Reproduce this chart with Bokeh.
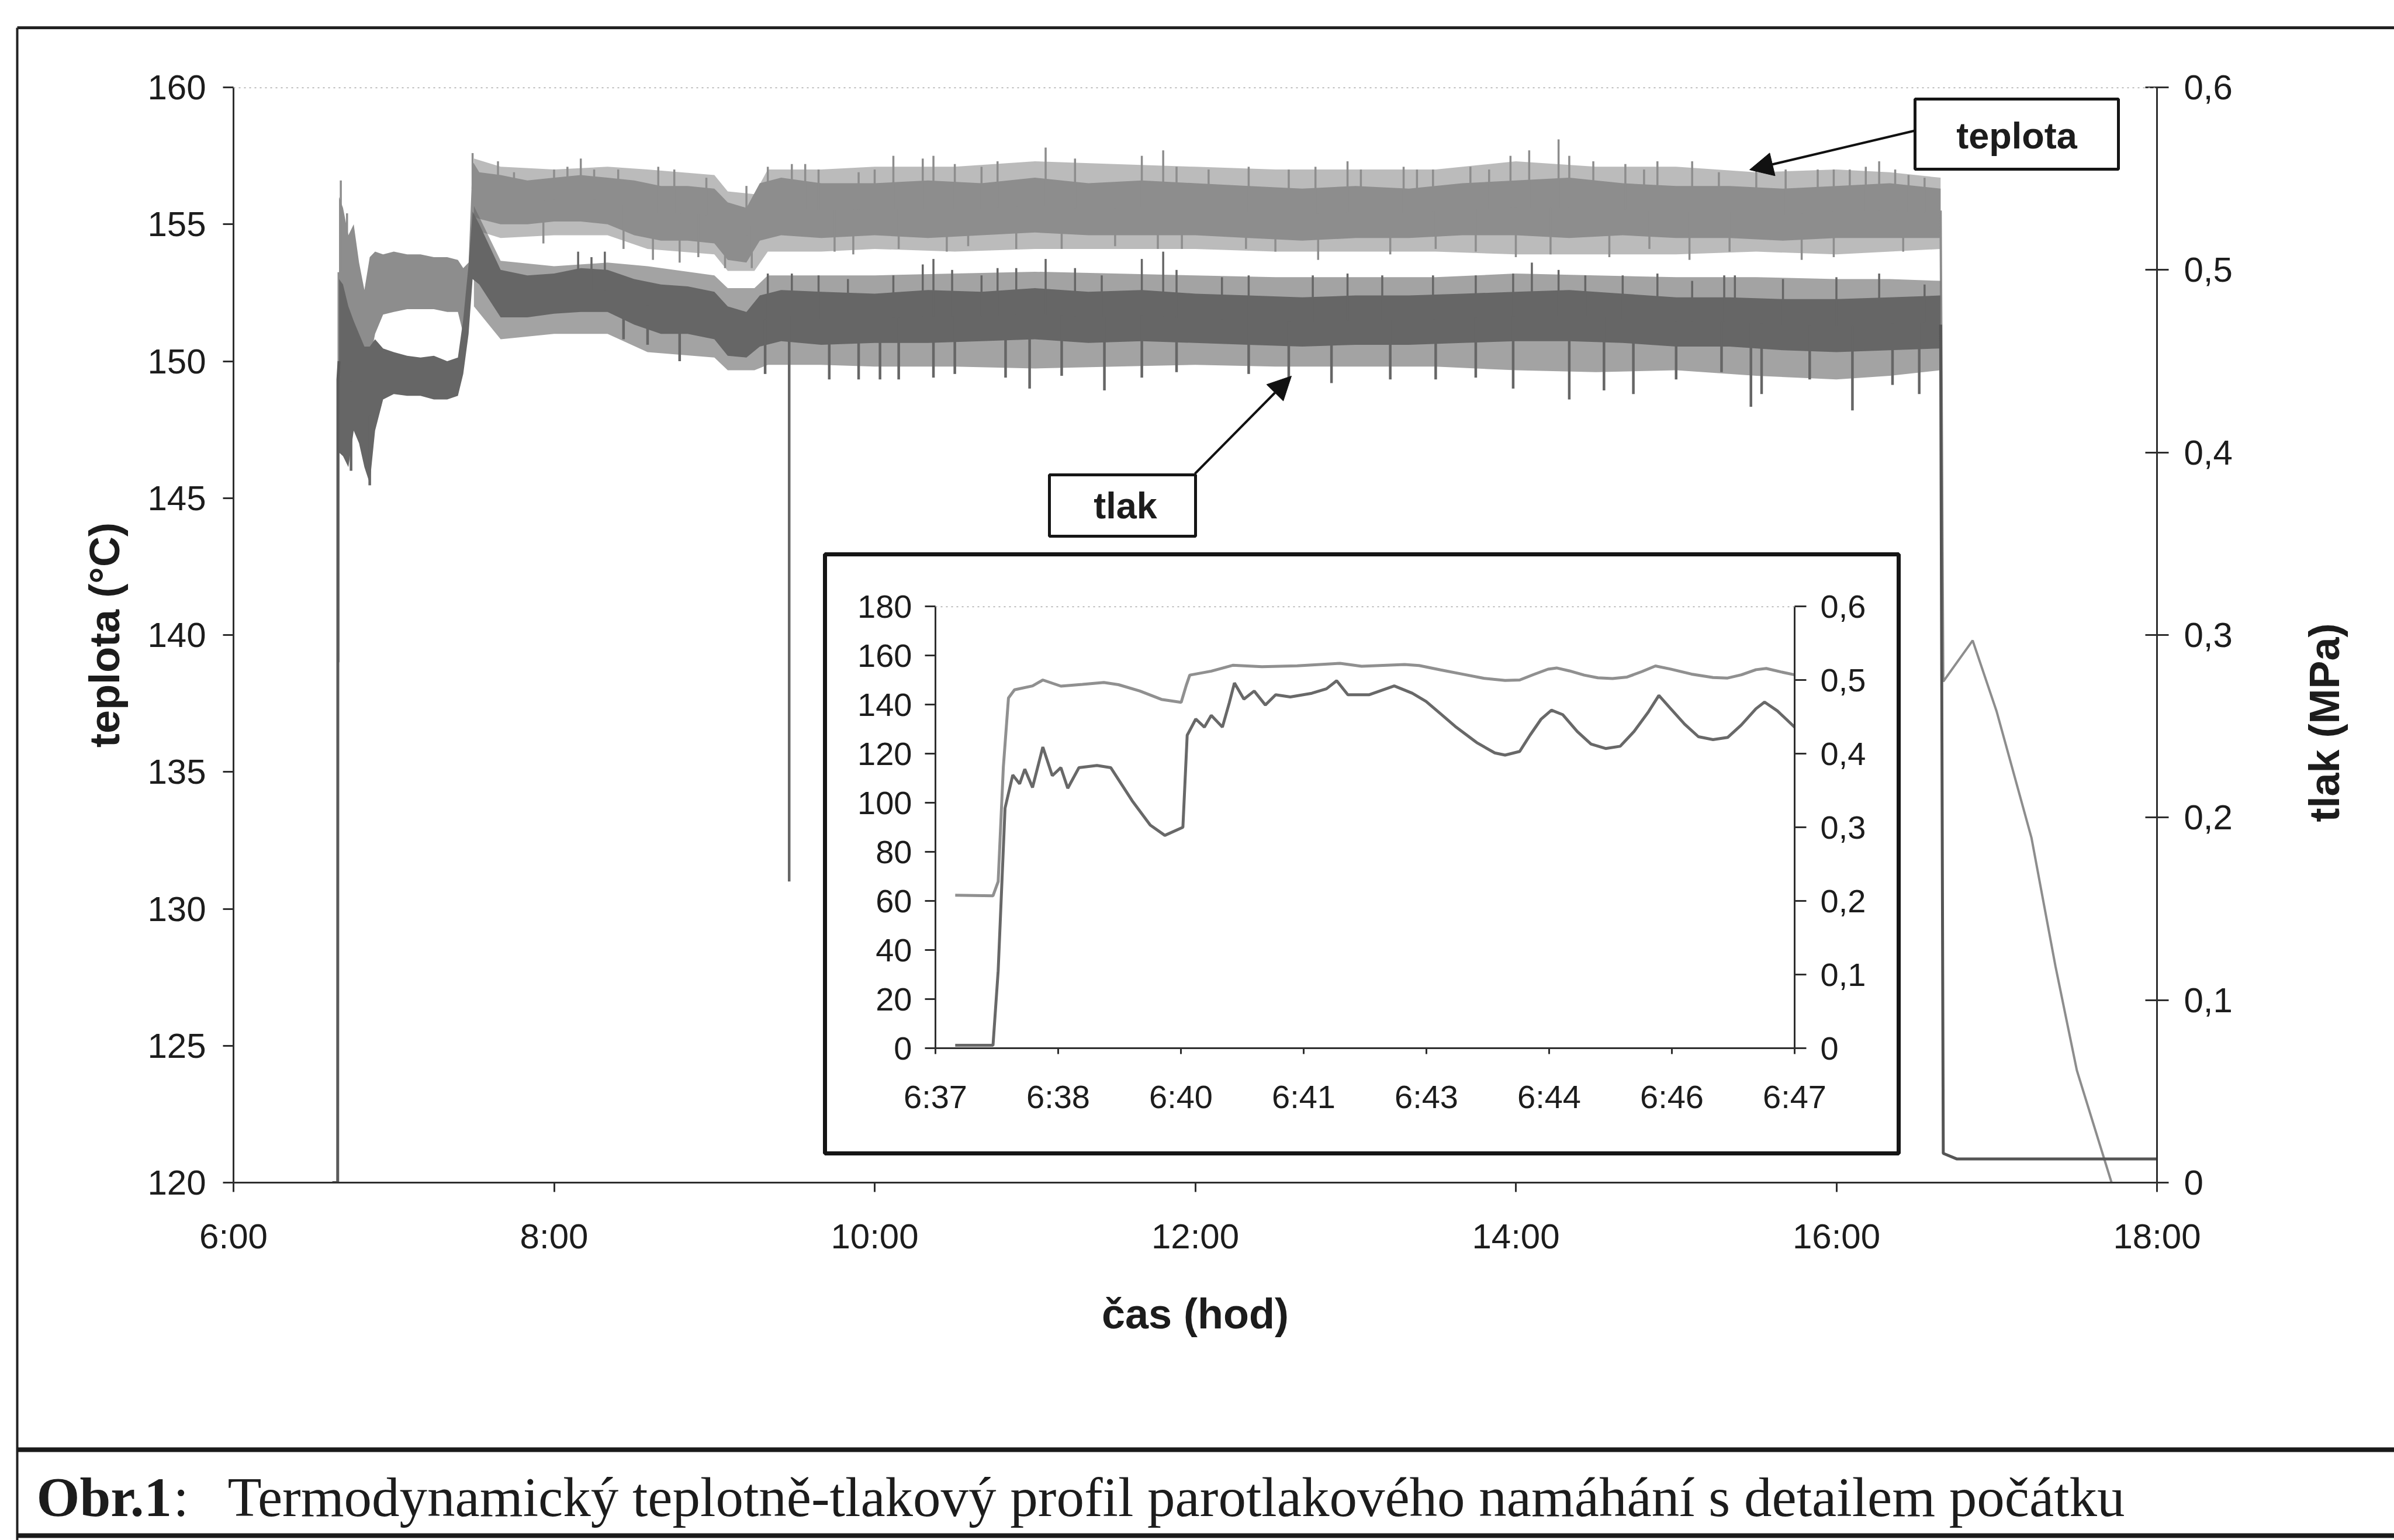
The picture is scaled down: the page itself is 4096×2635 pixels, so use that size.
import numpy as np
from bokeh.plotting import figure
from bokeh.models import (Range1d, LinearAxis, FixedTicker, CustomJSTickFormatter,
                          Span, Arrow, NormalHead)
from bokeh.layouts import column
from bokeh.embed import file_html
from bokeh.resources import INLINE
from bokeh.core.properties import value

# ---------------------------------------------------------------- data
x_ticks = [6, 8, 10, 12, 14, 16, 18]
x_tick_labels = ["6:00", "8:00", "10:00", "12:00", "14:00", "16:00", "18:00"]
temp_ticks = [120, 125, 130, 135, 140, 145, 150, 155, 160]
pres_ticks = [0.0, 0.1, 0.2, 0.3, 0.4, 0.5, 0.6]

# dense core of the noisy bands (main chart)
band_time = ["6:39:30", "6:41", "6:43", "6:45", "6:47", "6:49", "6:51", "6:53", "6:56", "7:00",
             "7:05", "7:10", "7:15", "7:20", "7:24", "7:26", "7:28", "7:29:30", "7:32", "7:40",
             "7:50", "8:00", "8:10", "8:20", "8:30", "8:40", "8:50", "9:00", "9:05", "9:12",
             "9:17", "9:25", "9:40", "10:00", "10:20", "10:40", "11:00", "11:20", "11:40", "12:00",
             "12:20", "12:40", "13:00", "13:20", "13:40", "14:00", "14:20", "14:40", "15:00", "15:20",
             "15:40", "16:00", "16:20", "16:39"]
temp_low = [150.5, 151.0, 150.2, 149.6, 149.2, 149.0, 150.0, 151.0, 151.7, 151.8,
            151.9, 151.9, 151.9, 151.8, 151.8, 151.0, 151.6, 155.3, 155.2, 155.0,
            155.0, 155.1, 155.1, 155.0, 154.6, 154.4, 154.4, 154.3, 153.7, 153.6,
            154.4, 154.6, 154.5, 154.6, 154.5, 154.6, 154.7, 154.6, 154.6, 154.6,
            154.5, 154.4, 154.5, 154.5, 154.6, 154.6, 154.5, 154.6, 154.5, 154.5,
            154.4, 154.5, 154.5, 154.5]
temp_high = [156.0, 155.6, 154.6, 155.0, 153.6, 152.6, 153.8, 154.0, 153.9, 154.0,
             153.9, 153.9, 153.8, 153.8, 153.7, 153.4, 153.6, 157.3, 156.9, 156.8,
             156.6, 156.7, 156.8, 156.7, 156.6, 156.4, 156.4, 156.3, 155.8, 155.6,
             156.5, 156.7, 156.5, 156.5, 156.6, 156.5, 156.7, 156.5, 156.6, 156.5,
             156.4, 156.3, 156.4, 156.3, 156.5, 156.6, 156.7, 156.5, 156.4, 156.4,
             156.3, 156.4, 156.5, 156.3]
pres_low = [0.400, 0.398, 0.392, 0.412, 0.405, 0.392, 0.383, 0.412, 0.429, 0.432,
            0.431, 0.431, 0.429, 0.429, 0.431, 0.443, 0.465, 0.495, 0.492, 0.474,
            0.474, 0.476, 0.477, 0.477, 0.470, 0.465, 0.465, 0.462, 0.453, 0.452,
            0.458, 0.461, 0.459, 0.460, 0.460, 0.461, 0.462, 0.460, 0.461, 0.460,
            0.459, 0.458, 0.459, 0.459, 0.460, 0.461, 0.461, 0.460, 0.458, 0.458,
            0.456, 0.455, 0.456, 0.457]
pres_high = [0.495, 0.492, 0.480, 0.472, 0.465, 0.458, 0.458, 0.462, 0.457, 0.455,
             0.453, 0.452, 0.453, 0.450, 0.452, 0.473, 0.503, 0.532, 0.525, 0.500,
             0.497, 0.498, 0.501, 0.500, 0.495, 0.492, 0.491, 0.488, 0.480, 0.477,
             0.486, 0.489, 0.488, 0.487, 0.489, 0.488, 0.490, 0.488, 0.489, 0.487,
             0.486, 0.485, 0.486, 0.486, 0.487, 0.488, 0.489, 0.487, 0.485, 0.485,
             0.484, 0.484, 0.485, 0.486]

# reach of the frequent small spikes around the core (fuzzy edge of each band)
outer_time = ["7:30", "7:40", "8:00", "8:20", "8:35", "9:00", "9:05", "9:15", "9:20", "9:40",
              "10:00", "10:30", "11:00", "11:30", "12:00", "12:30", "13:00", "13:30", "14:00", "14:30",
              "15:00", "15:30", "16:00", "16:20", "16:39"]
temp_outer_low = [154.8, 154.5, 154.6, 154.6, 154.1, 153.9, 153.3, 153.3, 154.0, 154.0,
                  154.1, 154.0, 154.1, 154.1, 154.1, 154.0, 154.0, 154.0, 153.9, 153.9,
                  153.9, 154.0, 153.9, 154.0, 154.1]
temp_outer_high = [157.4, 157.1, 157.0, 157.1, 157.0, 156.8, 156.2, 156.1, 157.0, 157.0,
                   157.1, 157.1, 157.3, 157.2, 157.1, 157.0, 157.0, 157.0, 157.3, 157.1,
                   157.1, 156.9, 157.0, 156.9, 156.7]
pres_outer_low = [0.480, 0.462, 0.465, 0.465, 0.455, 0.452, 0.445, 0.445, 0.448, 0.448,
                  0.447, 0.447, 0.446, 0.447, 0.448, 0.447, 0.447, 0.447, 0.445, 0.444,
                  0.445, 0.442, 0.440, 0.442, 0.445]
pres_outer_high = [0.535, 0.505, 0.502, 0.504, 0.502, 0.497, 0.490, 0.490, 0.497, 0.497,
                   0.497, 0.498, 0.499, 0.498, 0.497, 0.496, 0.496, 0.496, 0.498, 0.497,
                   0.496, 0.496, 0.495, 0.495, 0.494]

# single spikes leaving the bands
temp_up_time = ["6:40:10", "6:42:30", "7:29:30", "7:39", "7:45", "8:00", "8:05", "8:10", "8:15", "8:24",
                "8:39", "8:45", "8:57", "9:12", "9:20", "9:29", "9:34", "9:39", "9:54", "10:00",
                "10:07", "10:18", "10:22", "10:30", "10:40", "10:46", "11:04", "11:15", "11:40", "11:48",
                "11:53", "12:05", "12:20", "12:35", "12:45", "12:57", "13:02", "13:18", "13:23", "13:29",
                "13:43", "13:50", "13:58", "14:05", "14:16", "14:20", "14:29", "14:41", "14:48", "14:53",
                "15:06", "15:16", "15:30", "15:41", "15:53", "15:59", "16:05", "16:11", "16:16", "16:22",
                "16:27", "16:33"]
temp_up = [156.6, 155.4, 157.6, 157.3, 156.9, 157.0, 157.1, 157.4, 157.0, 157.0,
           157.1, 157.0, 156.7, 156.4, 157.1, 157.2, 157.2, 157.0, 156.9, 157.0,
           157.5, 157.4, 157.5, 157.2, 157.1, 157.3, 157.8, 157.4, 157.5, 157.7,
           157.1, 157.0, 157.1, 157.0, 157.1, 157.3, 157.0, 157.1, 157.0, 157.0,
           157.1, 157.0, 157.5, 157.7, 158.1, 157.5, 157.3, 157.2, 157.0, 157.3,
           157.3, 156.9, 157.0, 157.0, 157.0, 157.0, 157.0, 157.1, 157.3, 157.0,
           156.8, 156.7]
temp_down_time = ["6:39:20", "7:56", "8:26", "8:37", "8:47", "8:54", "9:04", "9:14", "9:45", "9:52",
                  "10:09", "10:27", "10:35", "10:53", "11:10", "11:30", "11:46", "11:55", "12:19", "12:30",
                  "12:46", "13:13", "13:30", "13:45", "14:00", "14:13", "14:35", "14:50", "15:05", "15:20",
                  "15:47", "15:59", "16:25"]
temp_down = [139.0, 154.3, 154.1, 153.7, 153.6, 153.8, 153.4, 153.4, 154.0, 153.9,
             154.1, 154.0, 154.2, 154.1, 154.1, 154.2, 154.1, 154.1, 154.1, 154.0,
             153.7, 153.9, 154.1, 154.0, 153.8, 153.9, 153.8, 154.1, 153.7, 154.0,
             153.7, 153.8, 154.0]
pres_up_time = ["8:09", "8:14", "8:19", "9:20", "9:29", "9:39", "9:50", "10:07", "10:18", "10:22",
                "10:29", "10:40", "10:46", "10:53", "11:04", "11:15", "11:25", "11:40", "11:48", "11:53",
                "12:10", "12:20", "12:44", "12:57", "13:10", "13:29", "13:45", "13:59", "14:06", "14:16",
                "14:26", "14:40", "14:53", "15:06", "15:18", "15:22", "15:40", "16:00", "16:16", "16:33"]
pres_up = [0.510, 0.507, 0.510, 0.498, 0.498, 0.497, 0.495, 0.497, 0.503, 0.506,
           0.500, 0.497, 0.501, 0.501, 0.506, 0.501, 0.497, 0.506, 0.510, 0.500,
           0.496, 0.497, 0.497, 0.498, 0.497, 0.497, 0.497, 0.498, 0.504, 0.500,
           0.497, 0.497, 0.498, 0.494, 0.497, 0.497, 0.495, 0.496, 0.498, 0.492]
pres_down_time = ["6:44", "6:51", "8:26", "8:35", "8:47", "9:19", "9:28", "9:43", "9:54", "10:02",
                  "10:09", "10:22", "10:30", "10:49", "10:58", "11:10", "11:26", "11:40", "11:53", "12:20",
                  "12:35", "12:51", "13:13", "13:30", "13:45", "13:59", "14:20", "14:33", "14:44", "15:00",
                  "15:17", "15:28", "15:32", "15:50", "16:06", "16:21", "16:31"]
pres_down = [0.390, 0.382, 0.462, 0.459, 0.450, 0.443, 0.165, 0.440, 0.440, 0.440,
             0.440, 0.441, 0.443, 0.441, 0.435, 0.442, 0.434, 0.441, 0.444, 0.443,
             0.441, 0.438, 0.440, 0.440, 0.441, 0.435, 0.429, 0.434, 0.432, 0.440,
             0.444, 0.425, 0.432, 0.440, 0.423, 0.437, 0.432]

# start and end of the run
pres_head_time = ["6:37", "6:39", "6:39:05", "6:39:30"]
pres_head = [0.0, 0.0, 0.440, 0.450]
temp_tail_time = ["16:39", "16:40", "16:51", "17:00", "17:13", "17:22", "17:30", "17:43"]
temp_tail = [155.5, 138.3, 139.8, 137.2, 132.6, 127.9, 124.1, 120.0]
pres_tail_time = ["16:39", "16:40", "16:45", "18:00"]
pres_tail = [0.470, 0.016, 0.013, 0.013]

# inset: detail of the start (minutes after 6:37)
inset_x_ticks = [0, 10 / 7, 20 / 7, 30 / 7, 40 / 7, 50 / 7, 60 / 7, 10]
inset_x_tick_labels = ["6:37", "6:38", "6:40", "6:41", "6:43", "6:44", "6:46", "6:47"]
inset_temp_ticks = [0, 20, 40, 60, 80, 100, 120, 140, 160, 180]
inset_temp_min = [0.23, 0.67, 0.73, 0.79, 0.85, 0.92, 1.13, 1.25, 1.46, 1.71,
                  1.96, 2.13, 2.38, 2.63, 2.86, 2.92, 2.96, 3.21, 3.46, 3.80,
                  4.21, 4.71, 4.96, 5.46, 5.63, 5.88, 6.13, 6.38, 6.63, 6.80,
                  6.96, 7.13, 7.23, 7.38, 7.55, 7.71, 7.88, 8.05, 8.22, 8.38,
                  8.55, 8.80, 9.05, 9.22, 9.38, 9.55, 9.67, 9.84, 10.0]
inset_temp = [62.3, 62.1, 67.9, 114.4, 142.7, 146.0, 147.6, 150.0, 147.5, 148.2,
              149.0, 148.1, 145.5, 142.1, 140.9, 147.9, 152.0, 153.6, 156.0, 155.4,
              155.8, 156.8, 155.6, 156.3, 155.9, 154.1, 152.4, 150.7, 149.8, 150.0,
              152.2, 154.4, 154.9, 153.7, 152.0, 150.9, 150.6, 151.2, 153.4, 155.7,
              154.5, 152.4, 151.0, 150.8, 152.1, 154.2, 154.7, 153.3, 152.1]
inset_pres_min = [0.23, 0.67, 0.73, 0.81, 0.90, 0.98, 1.04, 1.13, 1.25, 1.36,
                  1.46, 1.54, 1.67, 1.88, 2.04, 2.29, 2.50, 2.67, 2.88, 2.93,
                  3.03, 3.13, 3.21, 3.34, 3.42, 3.48, 3.59, 3.71, 3.84, 3.96,
                  4.13, 4.38, 4.55, 4.67, 4.80, 5.05, 5.34, 5.55, 5.71, 5.88,
                  6.05, 6.30, 6.51, 6.63, 6.80, 6.92, 7.05, 7.17, 7.30, 7.47,
                  7.63, 7.80, 7.97, 8.13, 8.30, 8.42, 8.55, 8.72, 8.88, 9.05,
                  9.22, 9.38, 9.55, 9.65, 9.80, 10.0]
inset_pres = [0.004, 0.004, 0.105, 0.326, 0.371, 0.359, 0.379, 0.354, 0.409, 0.370,
              0.381, 0.353, 0.381, 0.384, 0.381, 0.336, 0.303, 0.289, 0.300, 0.425,
              0.447, 0.436, 0.452, 0.436, 0.469, 0.496, 0.474, 0.485, 0.466, 0.480,
              0.477, 0.482, 0.488, 0.499, 0.480, 0.480, 0.492, 0.482, 0.471, 0.454,
              0.437, 0.415, 0.401, 0.398, 0.403, 0.425, 0.447, 0.459, 0.453, 0.430,
              0.413, 0.407, 0.410, 0.430, 0.457, 0.479, 0.462, 0.440, 0.423, 0.419,
              0.422, 0.439, 0.461, 0.470, 0.458, 0.436]

# ---------------------------------------------------------------- helpers
def hours(s):
    parts = [float(v) for v in s.split(":")]
    while len(parts) < 3:
        parts.append(0.0)
    return parts[0] + parts[1] / 60.0 + parts[2] / 3600.0


def hrs(lst):
    return [hours(s) for s in lst]


W, H = 4096, 2635
L, R, T, B = 399, 3690, 149, 2023          # main plot frame (px)
TEXT = "#1c1c1c"
AXC = "#2e2e2e"
TEMP_C = "#8d8d8d"
PRES_C = "#666666"
SANS = "Liberation Sans"
SERIF = "Liberation Serif"


def mx(X):
    return 6 + (X - L) / (R - L) * 12


def my(Y):
    return 160 - (Y - T) / (B - T) * 40


def style_axis(ax, size, tin, tout, standoff):
    ax.axis_line_color = AXC
    ax.axis_line_width = 3
    ax.major_tick_line_color = AXC
    ax.major_tick_line_width = 3
    ax.major_tick_in = tin
    ax.major_tick_out = tout
    ax.minor_tick_line_color = None
    ax.major_label_text_font = SANS
    ax.major_label_text_font_size = f"{size}px"
    ax.major_label_text_color = TEXT
    ax.major_label_standoff = standoff


comma_fmt = CustomJSTickFormatter(
    code="return Math.abs(tick) < 1e-9 ? '0' : tick.toFixed(1).replace('.', ',');")

# ---------------------------------------------------------------- background (frame + caption)
bg = figure(width=W, height=H, x_range=Range1d(0, W), y_range=Range1d(0, H),
            output_backend="svg", toolbar_location=None,
            x_axis_location=None, y_axis_location=None, min_border=0,
            min_border_left=0, min_border_right=0, min_border_top=0, min_border_bottom=0,
            frame_align=False,
            outline_line_color=None, background_fill_color="white", border_fill_color="white")
bg.grid.visible = False
bg.segment(x0=[29], y0=[H - 47], x1=[W], y1=[H - 47], line_color="#222222", line_width=5)
bg.segment(x0=[29], y0=[H - 47], x1=[29], y1=[0], line_color="#222222", line_width=4)
bg.segment(x0=[29], y0=[H - 2480], x1=[W], y1=[H - 2480], line_color="#1a1a1a", line_width=8)
bg.segment(x0=[29], y0=[H - 2627], x1=[W], y1=[H - 2627], line_color="#1a1a1a", line_width=8)
CAP_Y = H - 2561
bg.text(x=[62], y=[CAP_Y], text=["Obr.1"], text_font=value(SERIF), text_font_style="bold",
        text_font_size="95px", text_align="left", text_baseline="middle", text_color=TEXT)
bg.text(x=[296], y=[CAP_Y], text=[":"], text_font=value(SERIF),
        text_font_size="95px", text_align="left", text_baseline="middle", text_color=TEXT)
bg.text(x=[389], y=[CAP_Y],
        text=["Termodynamický teplotně-tlakový profil parotlakového namáhání s detailem počátku"],
        text_font=value(SERIF), text_font_size="95px", text_align="left",
        text_baseline="middle", text_color=TEXT)
bg.text(x=[3976], y=[H - 1236], text=["tlak (MPa)"], angle=np.pi / 2, text_font=value(SANS),
        text_font_style="bold", text_font_size="72px", text_align="center",
        text_baseline="middle", text_color=TEXT)

# ---------------------------------------------------------------- main chart
p = figure(width=W, height=H, x_range=Range1d(6, 18), y_range=Range1d(120, 160),
           output_backend="svg", toolbar_location=None, frame_align=False,
           min_border_left=L, min_border_right=W - R, min_border_top=T, min_border_bottom=H - B,
           background_fill_color=None, border_fill_color=None, outline_line_color=None)
p.extra_y_ranges = {"p": Range1d(0, 0.6)}
p.grid.visible = False

la = p.left[0]
la.ticker = FixedTicker(ticks=temp_ticks)
style_axis(la, 60, 0, 18, 29)
la.axis_label = "teplota (°C)"
la.axis_label_text_font = SANS
la.axis_label_text_font_style = "bold"
la.axis_label_text_font_size = "72px"
la.axis_label_text_color = TEXT
la.axis_label_standoff = 30

ba = p.below[0]
ba.ticker = FixedTicker(ticks=x_ticks)
ba.formatter = CustomJSTickFormatter(
    args=dict(tick_pos=x_ticks, labels=x_tick_labels),
    code="const i = tick_pos.findIndex(t => Math.abs(t - tick) < 1e-6); return i >= 0 ? labels[i] : '';")
style_axis(ba, 60, 0, 16, 42)
ba.axis_label = "čas (hod)"
ba.axis_label_text_font = SANS
ba.axis_label_text_font_style = "bold"
ba.axis_label_text_font_size = "72px"
ba.axis_label_text_color = TEXT
ba.axis_label_standoff = 56

ra = LinearAxis(y_range_name="p", ticker=FixedTicker(ticks=pres_ticks), formatter=comma_fmt)
style_axis(ra, 60, 20, 20, 26)
p.add_layout(ra, "right")

p.add_layout(Span(location=160, dimension="width", line_color="#a8a8a8",
                  line_width=3, line_dash="3 6"))

t_band = np.array(hrs(band_time))
t_out = hrs(outer_time)
tl, th = np.array(temp_low), np.array(temp_high)
pl, ph = np.array(pres_low), np.array(pres_high)

# temperature band (left axis)
p.varea(x=t_out, y1=temp_outer_low, y2=temp_outer_high, fill_color=TEMP_C, fill_alpha=0.6)
p.varea(x=t_band, y1=tl, y2=th, fill_color=TEMP_C)
tu = hrs(temp_up_time)
p.segment(x0=tu, y0=np.interp(tu, t_band, (tl + th) / 2), x1=tu, y1=temp_up,
          line_color=TEMP_C, line_width=3.5)
td = hrs(temp_down_time)
p.segment(x0=td, y0=np.interp(td, t_band, (tl + th) / 2), x1=td, y1=temp_down,
          line_color=TEMP_C, line_width=3.5)
p.line(x=hrs(temp_tail_time), y=temp_tail, line_color=TEMP_C, line_width=4)

# pressure band (right axis)
p.varea(x=t_out, y1=pres_outer_low, y2=pres_outer_high, fill_color=PRES_C, fill_alpha=0.6,
        y_range_name="p")
p.varea(x=t_band, y1=pl, y2=ph, fill_color=PRES_C, y_range_name="p")
pu = hrs(pres_up_time)
p.segment(x0=pu, y0=np.interp(pu, t_band, (pl + ph) / 2), x1=pu, y1=pres_up,
          line_color=PRES_C, line_width=3.5, y_range_name="p")
pd_ = hrs(pres_down_time)
p.segment(x0=pd_, y0=np.interp(pd_, t_band, (pl + ph) / 2), x1=pd_, y1=pres_down,
          line_color=PRES_C, line_width=4.5, y_range_name="p")
p.line(x=hrs(pres_head_time), y=pres_head, line_color="#5a5a5a", line_width=5, y_range_name="p")
p.line(x=hrs(pres_tail_time), y=pres_tail, line_color="#555555", line_width=5, y_range_name="p")

# callouts
p.add_layout(Arrow(end=NormalHead(size=40, fill_color="#111111", line_color="#111111", line_width=1),
                   x_start=mx(3276), y_start=my(223), x_end=mx(2993), y_end=my(290),
                   line_color="#111111", line_width=4))
p.add_layout(Arrow(end=NormalHead(size=40, fill_color="#111111", line_color="#111111", line_width=1),
                   x_start=mx(2044), y_start=my(810), x_end=mx(2209), y_end=my(643),
                   line_color="#111111", line_width=4))
p.quad(left=[mx(3276)], right=[mx(3624)], top=[my(169)], bottom=[my(289)],
       fill_color="white", line_color="#151515", line_width=5)
p.text(x=[mx(3450)], y=[my(231)], text=["teplota"], text_font=value(SANS), text_font_style="bold",
       text_font_size="63px", text_align="center", text_baseline="middle", text_color=TEXT)
p.quad(left=[mx(1795)], right=[mx(2045)], top=[my(812)], bottom=[my(917)],
       fill_color="white", line_color="#151515", line_width=5)
p.text(x=[mx(1925)], y=[my(864)], text=["tlak"], text_font=value(SANS), text_font_style="bold",
       text_font_size="63px", text_align="center", text_baseline="middle", text_color=TEXT)
# frame of the inset
p.quad(left=[mx(1411)], right=[mx(3248)], top=[my(948)], bottom=[my(1973)],
       fill_color=None, line_color="#151515", line_width=7)

# ---------------------------------------------------------------- inset
INS_X, INS_Y, INS_W, INS_H = 1416, 953, 1827, 1015
IL, IR, IT, IB = 1600, 3070, 1037, 1793
ins = figure(width=INS_W, height=INS_H, x_range=Range1d(0, 10), y_range=Range1d(0, 180),
             output_backend="svg", toolbar_location=None, frame_align=False,
             min_border_left=IL - INS_X, min_border_right=INS_X + INS_W - IR,
             min_border_top=IT - INS_Y, min_border_bottom=INS_Y + INS_H - IB,
             background_fill_color="white", border_fill_color="white", outline_line_color=None)
ins.extra_y_ranges = {"p": Range1d(0, 0.6)}
ins.grid.visible = False
ila = ins.left[0]
ila.ticker = FixedTicker(ticks=inset_temp_ticks)
style_axis(ila, 56, 0, 18, 22)
iba = ins.below[0]
iba.ticker = FixedTicker(ticks=inset_x_ticks)
iba.formatter = CustomJSTickFormatter(
    args=dict(tick_pos=inset_x_ticks, labels=inset_x_tick_labels),
    code="const i = tick_pos.findIndex(t => Math.abs(t - tick) < 1e-6); return i >= 0 ? labels[i] : '';")
style_axis(iba, 56, 0, 10, 41)
ira = LinearAxis(y_range_name="p", ticker=FixedTicker(ticks=pres_ticks), formatter=comma_fmt)
style_axis(ira, 56, 0, 20, 24)
ins.add_layout(ira, "right")
ins.add_layout(Span(location=180, dimension="width", line_color="#a8a8a8",
                    line_width=3, line_dash="3 6"))
ins.line(x=inset_temp_min, y=inset_temp, line_color="#909090", line_width=5)
ins.line(x=inset_pres_min, y=inset_pres, line_color="#686868", line_width=5, y_range_name="p")

# ---------------------------------------------------------------- stacking
p.margin = (-H, 0, 0, 0)
ins.margin = (INS_Y - H, 0, 0, INS_X)
layout = column(bg, p, ins, spacing=0)

open("out.html", "w").write(file_html(layout, INLINE))
